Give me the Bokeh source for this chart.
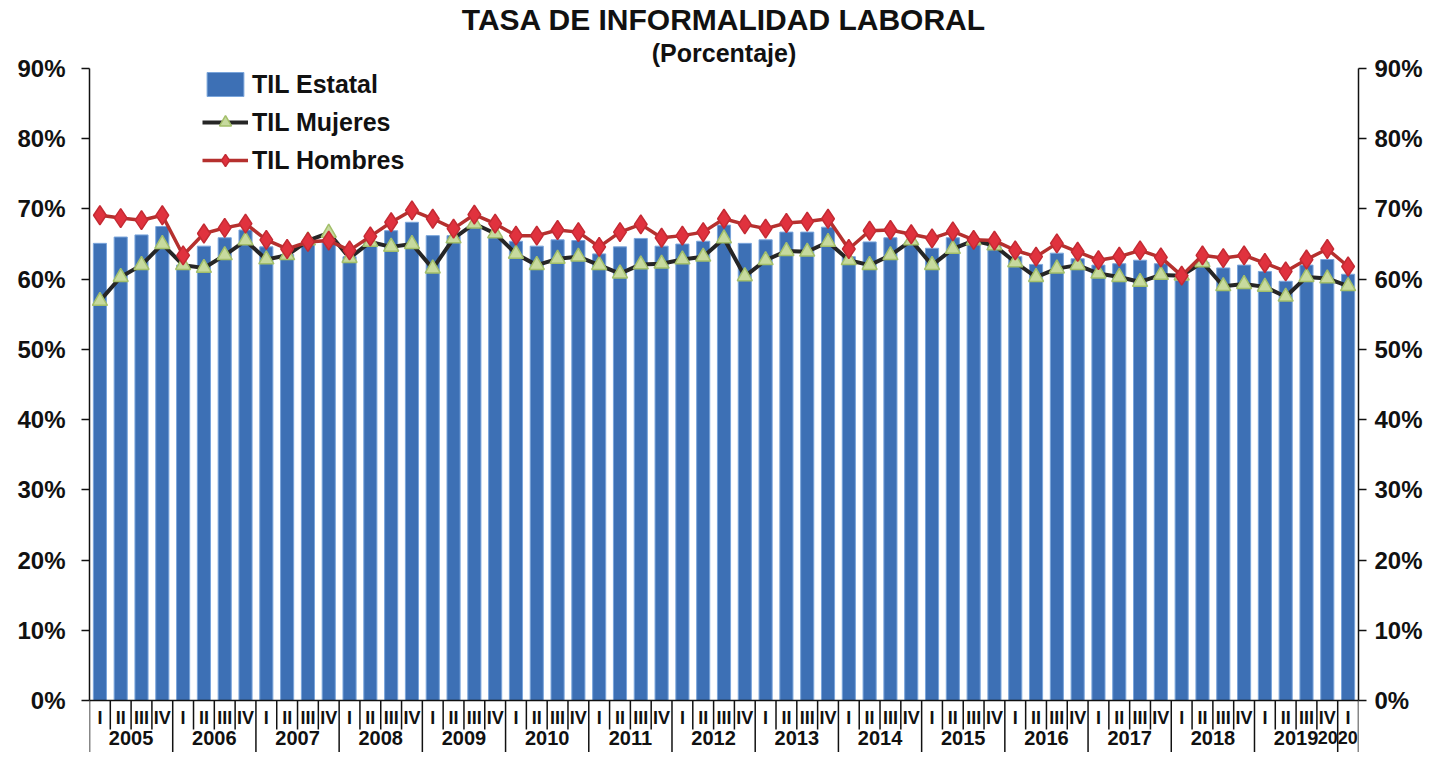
from bokeh.plotting import figure
from bokeh.models import (Range1d, LinearAxis, PrintfTickFormatter, FixedTicker,
                          Legend, LegendItem, ColumnDataSource, Title, Span)
from bokeh.core.properties import value
from bokeh.embed import file_html
from bokeh.resources import INLINE

years = [str(y) for y in range(2005, 2021)]
quarters = ["I", "II", "III", "IV"]
periods = [(y, q) for y in years[:-1] for q in quarters] + [("2020", "I")]

estatal = [65.1, 66.0, 66.3, 67.5, 62.0, 64.7, 65.9, 67.0, 64.6, 63.5, 65.1, 65.3,
           63.2, 65.3, 66.9, 68.1, 66.2, 66.2, 67.4, 66.2, 65.4, 64.7, 65.6, 65.5,
           63.6, 64.6, 65.8, 64.7, 65.0, 65.4, 67.7, 65.1, 65.6, 66.7, 66.7, 67.4,
           63.2, 65.3, 65.9, 65.3, 64.4, 65.9, 65.3, 65.0, 63.2, 62.1, 63.7, 62.9,
           62.0, 62.2, 62.7, 62.2, 59.8, 62.4, 61.6, 62.0, 61.1, 59.7, 62.0, 62.8,
           60.7]
mujeres = [56.9, 60.3, 62.0, 65.0, 62.0, 61.6, 63.4, 65.5, 62.8, 63.4, 65.5, 66.6,
           63.0, 65.3, 64.6, 65.0, 61.5, 65.8, 67.9, 66.5, 63.6, 62.0, 62.9, 63.2,
           62.0, 60.8, 62.1, 62.2, 62.8, 63.2, 65.8, 60.4, 62.7, 64.0, 63.9, 65.3,
           62.7, 62.0, 63.4, 65.5, 62.0, 64.3, 65.5, 64.8, 62.4, 60.3, 61.5, 62.0,
           60.8, 60.3, 59.6, 60.6, 60.5, 62.4, 59.0, 59.3, 58.9, 57.5, 60.3, 60.1,
           59.0]
hombres = [69.1, 68.7, 68.4, 69.1, 63.4, 66.5, 67.3, 67.9, 65.6, 64.3, 65.3, 65.5,
           64.1, 66.1, 68.1, 69.8, 68.6, 67.2, 69.2, 67.9, 66.2, 66.2, 67.0, 66.7,
           64.6, 66.7, 67.8, 65.9, 66.2, 66.7, 68.6, 67.8, 67.2, 68.0, 68.2, 68.6,
           64.3, 66.9, 67.0, 66.4, 65.8, 66.8, 65.6, 65.5, 64.1, 63.2, 65.1, 63.9,
           62.7, 63.2, 64.1, 63.1, 60.5, 63.4, 63.0, 63.4, 62.3, 61.1, 62.8, 64.3,
           61.8]
y_ticks = [0, 10, 20, 30, 40, 50, 60, 70, 80, 90]

FONT = "Liberation Sans"
INK = "#111111"

n = len(periods)
xc = [i + 0.5 for i in range(n)]
src = ColumnDataSource(dict(x=xc, q=[p_[1] for p_ in periods], estatal=estatal,
                            mujeres=mujeres, hombres=hombres))

FRAME_TOP = 68.0
ZERO_Y = 700.0
CANVAS_H = 752
PX = (ZERO_Y - FRAME_TOP) / 90.0           # pixels per percentage point
BOTTOM = -(CANVAS_H - ZERO_Y) / PX         # room below 0 for the category labels

# year groups (label centred under its quarters, kept inside the frame)
yr_x, yr_t, yr_fs = [], [], []
for y in years:
    idx = [i for i, p_ in enumerate(periods) if p_[0] == y]
    short = len(idx) < 4
    yr_x.append(min((idx[0] + idx[-1] + 1) / 2.0, n - 1.0))
    yr_t.append(y)
    yr_fs.append("18px" if short else "20px")
# separator positions (boundaries between periods)
q_sep = [i for i in range(1, n) if periods[i][0] == periods[i - 1][0]]
y_sep = [0] + [i for i in range(1, n) if periods[i][0] != periods[i - 1][0]] + [n]

p = figure(x_range=Range1d(0, n), y_range=Range1d(BOTTOM, 90), width=1425, height=CANVAS_H,
           output_backend="svg", toolbar_location=None, x_axis_location=None,
           min_border_left=89, min_border_right=65, min_border_top=int(FRAME_TOP),
           min_border_bottom=0)
p.outline_line_color = None
p.grid.visible = False

sub = Title(text="(Porcentaje)", align="center", text_font=FONT, text_font_size="25px",
            text_font_style="bold", text_color=INK, standoff=3, offset=11)
p.add_layout(sub, "above")
main = Title(text="TASA DE INFORMALIDAD LABORAL", align="center", text_font=FONT,
             text_font_size="30px", text_font_style="bold", text_color=INK, standoff=0,
             offset=10)
p.add_layout(main, "above")

bars = p.vbar(x="x", top="estatal", width=0.63, source=src, fill_color="#3D70B5",
              line_color="#7AA5DB", line_width=1)
lm = p.line(x="x", y="mujeres", source=src, line_color="#262626", line_width=4)
sm = p.scatter(x="x", y="mujeres", source=src, marker="triangle", size=15,
               fill_color="#C7DA9E", line_color="#A3BF6A", line_width=1.5)
lh = p.line(x="x", y="hombres", source=src, line_color="#B5302E", line_width=3.5)
sh = p.scatter(x="x", y="hombres", source=src, marker="diamond", size=19,
               fill_color="#E0323E", line_color="#C42A33", line_width=1.5)

# y axes
p.yaxis[0].ticker = FixedTicker(ticks=y_ticks)
right = LinearAxis(ticker=FixedTicker(ticks=y_ticks))
p.add_layout(right, "right")
for ax in p.yaxis:
    ax.bounds = (0, 90)
    ax.formatter = PrintfTickFormatter(format="%d%%")
    ax.major_label_text_font = FONT
    ax.major_label_text_font_size = "24px"
    ax.major_label_text_font_style = "bold"
    ax.major_label_text_color = INK
    ax.axis_line_color = INK
    ax.axis_line_width = 1.5
    ax.major_tick_line_color = INK
    ax.major_tick_line_width = 1.5
    ax.major_tick_out = 8
    ax.major_tick_in = 0
    ax.minor_tick_line_color = None
p.yaxis[0].major_label_standoff = 16
right.major_label_standoff = 8

# category axis drawn below 0
p.add_layout(Span(location=0, dimension="width", line_color=INK, line_width=1.5))
p.segment(x0=q_sep, x1=q_sep, y0=[0] * len(q_sep), y1=[-29.0 / PX] * len(q_sep),
          line_color=INK, line_width=1.5)
p.segment(x0=y_sep, x1=y_sep, y0=[0] * len(y_sep), y1=[BOTTOM] * len(y_sep),
          line_color=INK, line_width=1.5)
p.text(x="x", y=-17.0 / PX, text="q", source=src, text_align="center",
       text_baseline="middle", text_font=value(FONT), text_font_size="18px",
       text_font_style="bold", text_color=INK)
ysrc = ColumnDataSource(dict(x=yr_x, y=[-37.0 / PX] * len(yr_x), t=yr_t, fs=yr_fs))
p.text(x="x", y="y", text="t", source=ysrc, text_align="center",
       text_baseline="middle", text_font=value(FONT), text_font_size="fs",
       text_font_style="bold", text_color=INK)

legend = Legend(items=[LegendItem(label="TIL Estatal", renderers=[bars]),
                       LegendItem(label="TIL Mujeres", renderers=[lm, sm]),
                       LegendItem(label="TIL Hombres", renderers=[lh, sh])],
                location=(113, 577), border_line_color=None, background_fill_alpha=0,
                label_text_font=FONT, label_text_font_size="25px", label_text_font_style="bold",
                label_text_color=INK, glyph_width=46, glyph_height=30, label_height=30,
                spacing=8, padding=5, margin=0, label_standoff=4)
p.add_layout(legend, "center")

open("out.html", "w").write(file_html(p, INLINE))
